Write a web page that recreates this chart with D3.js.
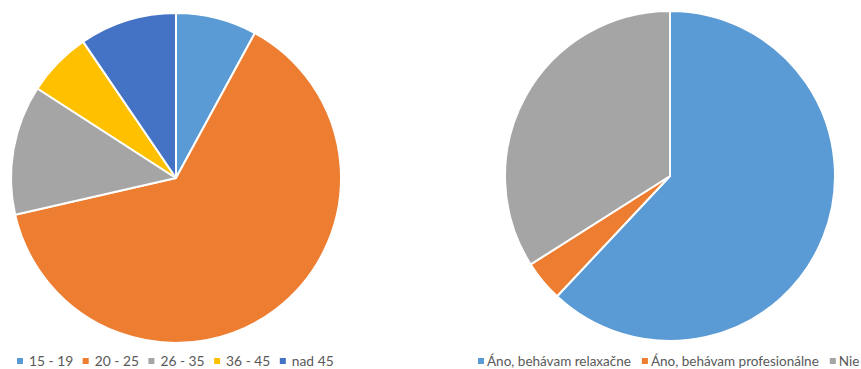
<!DOCTYPE html>
<html><head><meta charset="utf-8">
<script src="https://cdn.jsdelivr.net/npm/d3@7"></script>
<style>body{margin:0;background:#fff}svg{display:block}</style>
</head><body>
<script>
const ageCategories = ["15 - 19", "20 - 25", "26 - 35", "36 - 45", "nad 45"];
const ageValues = [5, 40, 8, 4, 6];
const runCategories = ["Áno, behávam relaxačne", "Áno, behávam profesionálne", "Nie"];
const runValues = [62, 4, 34];
const colors5 = ["#5b9bd5", "#ed7d31", "#a5a5a5", "#ffc000", "#4472c4"];
const colors3 = ["#5b9bd5", "#ed7d31", "#a5a5a5"];

const W = 861, H = 369;
const svg = d3.select("body").append("svg").attr("width", W).attr("height", H);

function drawPie(cats, vals, cols, cx, cy, r) {
  const pie = d3.pie().sort(null).value(d => d.v);
  const arc = d3.arc().innerRadius(0).outerRadius(r);
  const data = cats.map((c, i) => ({c, v: vals[i], col: cols[i]}));
  svg.append("g").attr("transform", `translate(${cx},${cy})`)
    .selectAll("path").data(pie(data)).join("path")
    .attr("d", arc).attr("fill", d => d.data.col)
    .attr("stroke", "#fff").attr("stroke-width", 2).attr("stroke-linejoin", "round");
}

drawPie(ageCategories, ageValues, colors5, 176, 178, 165);
drawPie(runCategories, runValues, colors3, 670, 176, 165);

function drawLegend(cats, cols, x0, y, fs, off, gap) {
  const g = svg.append("g").attr("font-family", "Lato, 'Open Sans', sans-serif").attr("font-size", fs).attr("fill", "#595959");
  let x = x0;
  cats.forEach((c, i) => {
    g.append("rect").attr("x", x).attr("y", y - 8).attr("width", 6).attr("height", 6).attr("fill", cols[i]);
    const t = g.append("text").attr("x", x + off).attr("y", y).text(c);
    const w = t.node().getComputedTextLength();
    x += off + w + gap;
  });
}
drawLegend(ageCategories, colors5, 17, 366, "13.8px", 12, 9.5);
drawLegend(runCategories, colors3, 478, 366, "13.5px", 9, 11);
</script>
</body></html>
